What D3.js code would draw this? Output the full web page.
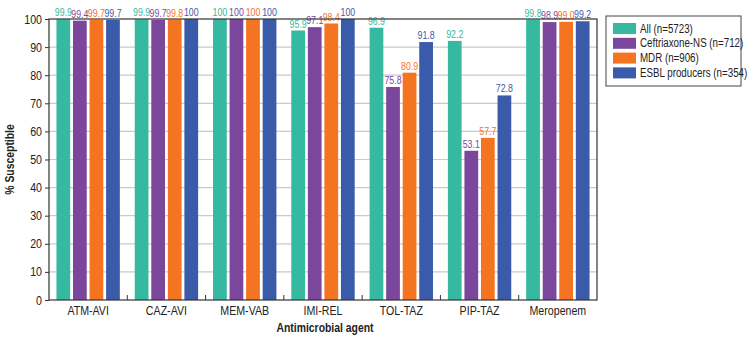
<!DOCTYPE html>
<html>
<head>
<meta charset="utf-8">
<script src="https://cdn.jsdelivr.net/npm/d3@7"></script>
<style>
  body { margin: 0; background: #fff; }
  text { font-family: "Liberation Sans", Arial, sans-serif; }
</style>
</head>
<body>
<div id="chart"></div>
<script>
var agents = ["ATM-AVI", "CAZ-AVI", "MEM-VAB", "IMI-REL", "TOL-TAZ", "PIP-TAZ", "Meropenem"];
var seriesNames = ["All (n=5723)", "Ceftriaxone-NS (n=712)", "MDR (n=906)", "ESBL producers (n=354)"];
var colors = ["#35b9a0", "#7b479c", "#f47421", "#3a5ba9"];
var allVals = [99.9, 99.9, 100, 95.9, 96.9, 92.2, 99.8];
var ceftVals = [99.4, 99.7, 100, 97.1, 75.8, 53.1, 98.9];
var mdrVals = [99.7, 99.8, 100, 98.4, 80.9, 57.7, 99.0];
var esblVals = [99.7, 100, 100, 100, 91.8, 72.8, 99.2];
var yTicks = [0, 10, 20, 30, 40, 50, 60, 70, 80, 90, 100];

var series = [allVals, ceftVals, mdrVals, esblVals];

var margin = {top: 19, right: 155, bottom: 39, left: 49};
var W = 752, H = 339;
var width = W - margin.left - margin.right;
var height = H - margin.top - margin.bottom;

// squeeze text horizontally (the original uses a condensed face)
function narrow(sel, f) {
  sel.each(function() {
    var w = this.getComputedTextLength();
    d3.select(this).attr("textLength", w * f).attr("lengthAdjust", "spacingAndGlyphs");
  });
}

var svg = d3.select("#chart").append("svg")
    .attr("width", W).attr("height", H)
  .append("g")
    .attr("transform", "translate(" + margin.left + "," + margin.top + ")");

var x0 = d3.scaleBand().domain(agents).range([0, width]).padding(0);
var x1 = d3.scaleBand().domain(d3.range(4)).range([0, x0.bandwidth()])
    .paddingInner(0.17).paddingOuter(0.45);
var y = d3.scaleLinear().domain([0, 100]).range([height, 0]);

// gridlines
svg.selectAll(".grid").data(yTicks.slice(1, -1)).enter().append("line")
    .attr("x1", 0).attr("x2", width)
    .attr("y1", function(d) { return y(d); }).attr("y2", function(d) { return y(d); })
    .style("stroke", "#c8c9d2").style("stroke-width", 1.2);

var groups = svg.selectAll(".grp").data(agents).enter().append("g")
    .attr("transform", function(d) { return "translate(" + x0(d) + ",0)"; });

groups.selectAll("rect")
    .data(function(d, i) { return series.map(function(s, k) { return {k: k, v: s[i]}; }); })
  .enter().append("rect")
    .attr("x", function(d) { return x1(d.k); })
    .attr("width", x1.bandwidth())
    .attr("y", function(d) { return y(d.v); })
    .attr("height", function(d) { return height - y(d.v); })
    .style("fill", function(d) { return colors[d.k]; });

var lbls = groups.selectAll(".lbl")
    .data(function(d, i) { return series.map(function(s, k) { return {k: k, v: s[i]}; }); })
  .enter().append("text")
    .attr("x", function(d) { return x1(d.k) + x1.bandwidth() / 2; })
    .attr("y", function(d) { return y(d.v) - 3; })
    .attr("text-anchor", "middle")
    .style("font-size", "11px")
    .style("fill", function(d) { return colors[d.k]; })
    .text(function(d) { return d.v === 100 ? "100" : d.v.toFixed(1); });
narrow(lbls, 0.8);

// frame
svg.append("rect")
    .attr("x", 0).attr("y", 0).attr("width", width).attr("height", height)
    .style("fill", "none").style("stroke", "#333").style("stroke-width", 1.2);

// axes
var yAxis = svg.append("g")
    .call(d3.axisLeft(y).tickValues(yTicks).tickSize(4).tickPadding(3));
yAxis.select(".domain").remove();
yAxis.selectAll("text").style("font-size", "12.5px").style("fill", "#222");
yAxis.selectAll("line").style("stroke", "#333");
narrow(yAxis.selectAll("text"), 0.85);

var xAxis = svg.append("g")
    .attr("transform", "translate(0," + height + ")")
    .call(d3.axisBottom(x0).tickSize(0).tickPadding(6));
xAxis.select(".domain").remove();
xAxis.selectAll("text").style("font-size", "12.5px").style("fill", "#222");
narrow(xAxis.selectAll("text"), 0.85);

// group separators
svg.selectAll(".sep").data(agents.slice(1)).enter().append("line")
    .attr("x1", function(d) { return x0(d); }).attr("x2", function(d) { return x0(d); })
    .attr("y1", height - 5).attr("y2", height)
    .style("stroke", "#333");

// titles
var xt = svg.append("text")
    .attr("x", width / 2 + 2).attr("y", height + 32)
    .attr("text-anchor", "middle")
    .style("font-size", "13px").style("font-weight", "bold").style("fill", "#222")
    .text("Antimicrobial agent");
narrow(xt, 0.8);

var yt = svg.append("text")
    .attr("transform", "translate(-35," + (height / 2) + ") rotate(-90)")
    .attr("text-anchor", "middle")
    .style("font-size", "13px").style("font-weight", "bold").style("fill", "#222")
    .text("% Susceptible");
narrow(yt, 0.8);

// legend
var lg = svg.append("g").attr("transform", "translate(" + (width + 9) + ",-3)");
lg.append("rect").attr("width", 135).attr("height", 70)
    .style("fill", "#fff").style("stroke", "#444").style("stroke-width", 1);
var items = lg.selectAll(".li").data(seriesNames).enter().append("g")
    .attr("transform", function(d, i) { return "translate(7," + (7 + i * 14.8) + ")"; });
items.append("rect").attr("width", 23).attr("height", 11)
    .style("fill", function(d, i) { return colors[i]; });
var lt = items.append("text").attr("x", 27).attr("y", 9.5)
    .style("font-size", "12.5px").style("fill", "#222")
    .text(function(d) { return d; });
narrow(lt, 0.78);
</script>
</body>
</html>
